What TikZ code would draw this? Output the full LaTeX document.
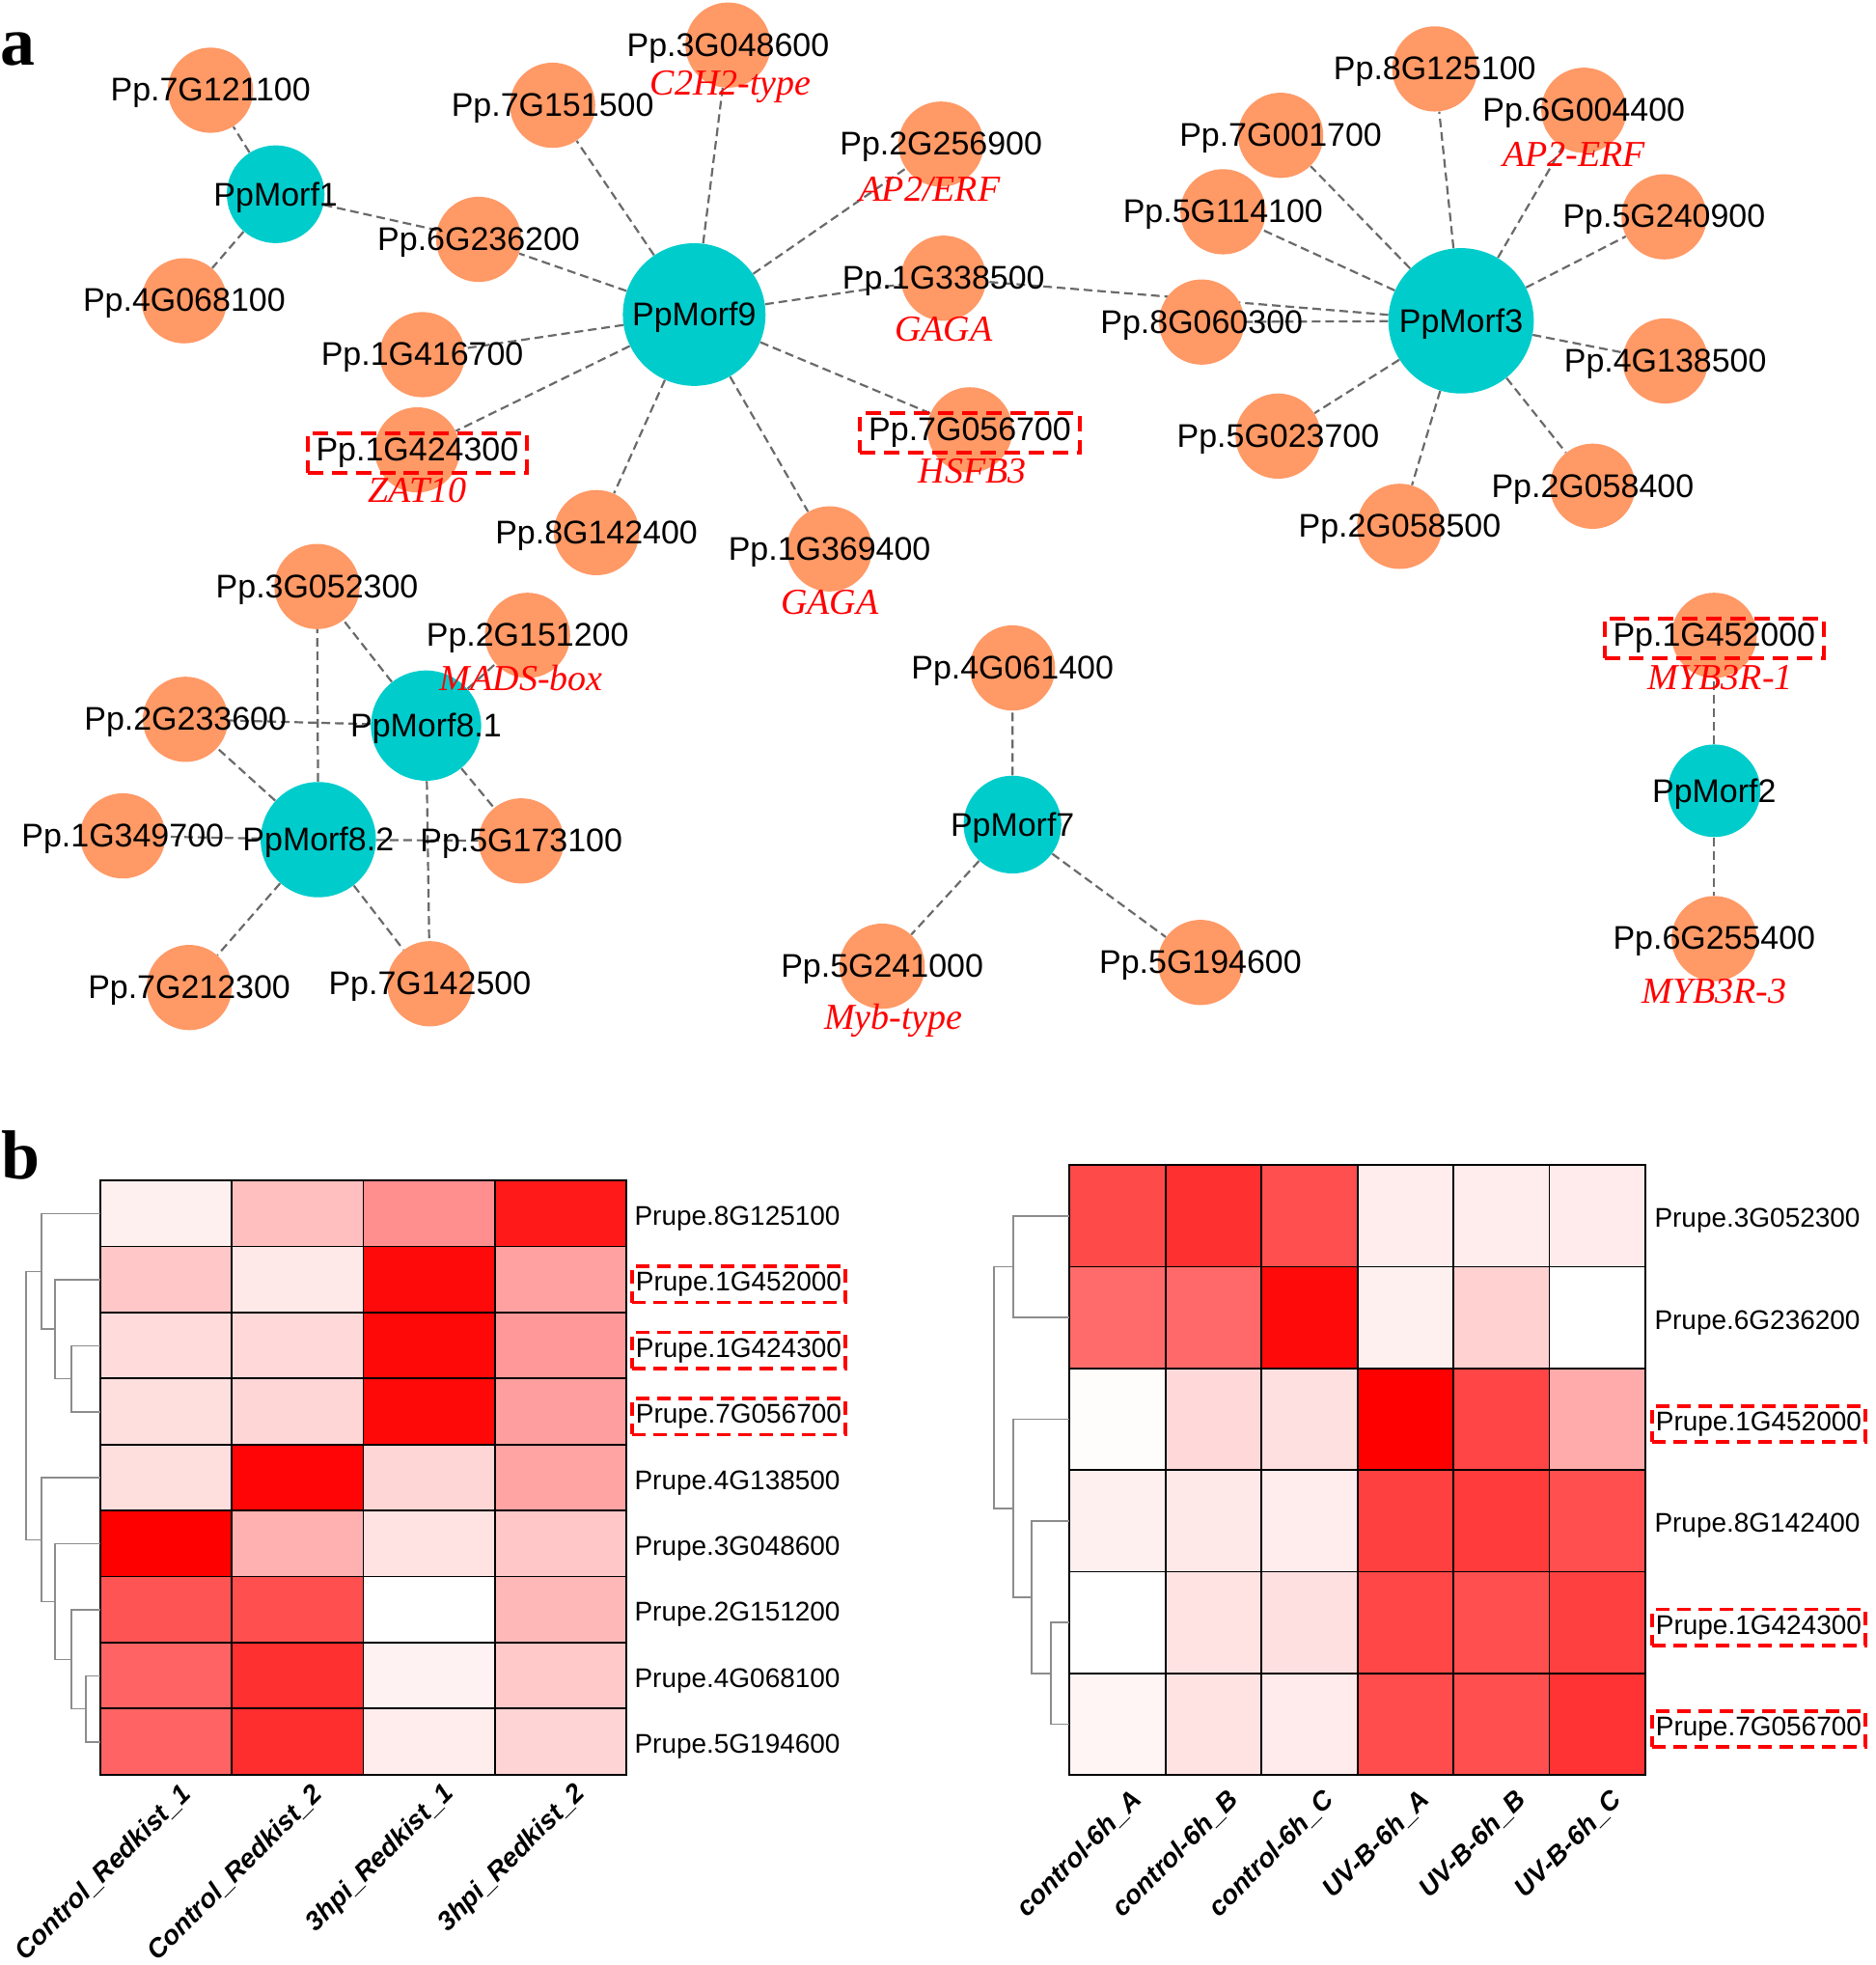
\documentclass[tikz,border=0pt]{standalone}
\usepackage{fontspec}
\setmainfont{Liberation Sans}
\newfontfamily\notefont{Liberation Serif}
\usetikzlibrary{backgrounds}

\definecolor{hubcol}{HTML}{00CCCC}
\definecolor{leafcol}{HTML}{FF9966}
\definecolor{edgecol}{HTML}{6A6A6A}
\definecolor{treecol}{HTML}{8C8C8C}

\tikzset{
  hub/.style={circle, fill=hubcol, inner sep=0pt, minimum size=#1},
  leaf/.style={circle, fill=leafcol, inner sep=0pt, minimum size=44.2pt},
  every label/.style={font=\fontsize{17}{20}\selectfont, inner sep=1pt, yshift=-1.5pt},
  hl/.style={draw=red, line width=2pt, dash pattern=on 8pt off 4.5pt, inner xsep=4.5pt, inner ysep=2.5pt},
  edge/.style={draw=edgecol, line width=1.1pt, dash pattern=on 4.5pt off 2.5pt},
  note/.style={text=red, font=\notefont\itshape\fontsize{19}{22}\selectfont, inner sep=0pt},
  cell/.style={draw=black, line width=0.9pt},
  tree/.style={draw=treecol, line width=0.8pt},
  rowlab/.style={anchor=west, inner xsep=2pt, inner ysep=3pt, yshift=-2.5pt, font=\fontsize{14}{16}\selectfont},
  rowhl/.style={rowlab, draw=red, line width=1.8pt, dash pattern=on 7pt off 4pt},
  collab/.style={anchor=east, rotate=45, inner sep=0pt, font=\bfseries\itshape\fontsize{13.8}{16}\selectfont},
  panel/.style={anchor=base west, inner sep=0pt, font=\notefont\bfseries\fontsize{36}{40}\selectfont}
}

\begin{document}
\begin{tikzpicture}[x=0.65pt, y=-0.65pt]
\useasboundingbox (0,0) rectangle (1497,1568);

\node[panel] (pa) at (0,52) {a};
\node[panel] (pb) at (1,941) {b};

% hubs
\node[hub=50.7pt, label=center:PpMorf1] (m1) at (220,155) {};
\node[hub=74pt, label=center:PpMorf9] (m9) at (554,251) {};
\node[hub=75.4pt, label=center:PpMorf3] (m3) at (1166,256) {};
\node[hub=57.2pt, label=center:PpMorf8.1] (m81) at (340,579) {};
\node[hub=59.8pt, label=center:PpMorf8.2] (m82) at (254,670) {};
\node[hub=50.7pt, label=center:PpMorf7] (m7) at (808,658) {};
\node[hub=48pt, label=center:PpMorf2] (m2) at (1368,631) {};

% PpMorf1 / PpMorf9 targets
\node[leaf, label=center:Pp.7G121100] (g7G121100) at (168,72) {};
\node[leaf, label=center:Pp.4G068100] (g4G068100) at (147,240) {};
\node[leaf, label=center:Pp.6G236200] (g6G236200) at (382,191) {};
\node[leaf, label=center:Pp.7G151500] (g7G151500) at (441,84) {};
\node[leaf, label=center:Pp.3G048600] (g3G048600) at (581,36) {};
\node[leaf, label=center:Pp.2G256900] (g2G256900) at (751,115) {};
\node[leaf, label=center:Pp.1G338500] (g1G338500) at (753,222) {};
\node[leaf, label=center:Pp.1G416700] (g1G416700) at (337,283) {};
\node[leaf, label={[hl]center:Pp.1G424300}] (g1G424300) at (333,359) {};
\node[leaf, label={[hl]center:Pp.7G056700}] (g7G056700) at (774,343) {};
\node[leaf, label=center:Pp.8G142400] (g8G142400) at (476,425) {};
\node[leaf, label=center:Pp.1G369400] (g1G369400) at (662,438) {};

% PpMorf3 targets
\node[leaf, label=center:Pp.8G125100] (g8G125100) at (1145,55) {};
\node[leaf, label=center:Pp.6G004400] (g6G004400) at (1264,88) {};
\node[leaf, label=center:Pp.7G001700] (g7G001700) at (1022,108) {};
\node[leaf, label=center:Pp.5G114100] (g5G114100) at (976,169) {};
\node[leaf, label=center:Pp.5G240900] (g5G240900) at (1328,173) {};
\node[leaf, label=center:Pp.8G060300] (g8G060300) at (959,257) {};
\node[leaf, label=center:Pp.4G138500] (g4G138500) at (1329,288) {};
\node[leaf, label=center:Pp.5G023700] (g5G023700) at (1020,348) {};
\node[leaf, label=center:Pp.2G058500] (g2G058500) at (1117,420) {};
\node[leaf, label=center:Pp.2G058400] (g2G058400) at (1271,388) {};

% PpMorf8.1 / PpMorf8.2 targets
\node[leaf, label=center:Pp.3G052300] (g3G052300) at (253,468) {};
\node[leaf, label=center:Pp.2G151200] (g2G151200) at (421,507) {};
\node[leaf, label=center:Pp.2G233600] (g2G233600) at (148,574) {};
\node[leaf, label=center:Pp.1G349700] (g1G349700) at (98,667) {};
\node[leaf, label=center:Pp.5G173100] (g5G173100) at (416,671) {};
\node[leaf, label=center:Pp.7G212300] (g7G212300) at (151,788) {};
\node[leaf, label=center:Pp.7G142500] (g7G142500) at (343,785) {};

% PpMorf7 / PpMorf2 targets
\node[leaf, label=center:Pp.4G061400] (g4G061400) at (808,533) {};
\node[leaf, label=center:Pp.5G241000] (g5G241000) at (704,771) {};
\node[leaf, label=center:Pp.5G194600] (g5G194600) at (958,768) {};
\node[leaf, label={[hl]center:Pp.1G452000}] (g1G452000) at (1368,507) {};
\node[leaf, label=center:Pp.6G255400] (g6G255400) at (1368,749) {};

% family names
\node[note] (n1) at (583,69) {C2H2-type};
\node[note] (n2) at (742,151) {AP2/ERF};
\node[note] (n3) at (753,263) {GAGA};
\node[note] (n4) at (333,391) {ZAT10};
\node[note] (n5) at (776,376) {HSFB3};
\node[note] (n6) at (662,481) {GAGA};
\node[note] (n7) at (1256,123) {AP2-ERF};
\node[note] (n8) at (416,541) {MADS-box};
\node[note] (n9) at (713,814) {Myb-type};
\node[note] (n10) at (1373,541) {MYB3R-1};
\node[note] (n11) at (1368,791) {MYB3R-3};

\begin{scope}[on background layer]
\draw[edge] (m1) -- (g7G121100) (m1) -- (g4G068100) (m1) -- (g6G236200);
\draw[edge] (m9) -- (g6G236200) (m9) -- (g7G151500) (m9) -- (g3G048600)
  (m9) -- (g2G256900) (m9) -- (g1G338500) (m9) -- (g1G416700)
  (m9) -- (g1G424300) (m9) -- (g7G056700) (m9) -- (g8G142400) (m9) -- (g1G369400);
\draw[edge] (m3) -- (g8G125100) (m3) -- (g6G004400) (m3) -- (g7G001700)
  (m3) -- (g5G114100) (m3) -- (g5G240900) (m3) -- (g8G060300) (m3) -- (g1G338500)
  (m3) -- (g4G138500) (m3) -- (g5G023700) (m3) -- (g2G058500) (m3) -- (g2G058400);
\draw[edge] (m81) -- (g3G052300) (m81) -- (g2G151200) (m81) -- (g2G233600)
  (m81) -- (g5G173100) (m81) -- (g7G142500);
\draw[edge] (m82) -- (g3G052300) (m82) -- (g2G233600) (m82) -- (g1G349700)
  (m82) -- (g5G173100) (m82) -- (g7G212300) (m82) -- (g7G142500);
\draw[edge] (m7) -- (g4G061400) (m7) -- (g5G241000) (m7) -- (g5G194600);
\draw[edge] (m2) -- (g1G452000) (m2) -- (g6G255400);
\end{scope}

% left heatmap
\foreach \vals [count=\r] in {{6,25,44,90},{22,9,96,37},{14,15,97,40},{13,16,97,38},{13,98,16,36},{100,31,11,22},{67,69,0,28},{61,81,5,21},{61,82,7,17}}
  \foreach \v [count=\c] in \vals
    \filldraw[cell, fill=red!\v] ({80+(\c-1)*105},{942+(\r-1)*52.67}) rectangle ++(105,52.67);

\node[rowlab] (l1) at (503,968.4) {Prupe.8G125100};
\node[rowhl] (l2) at (503,1021.1) {Prupe.1G452000};
\node[rowhl] (l3) at (503,1073.8) {Prupe.1G424300};
\node[rowhl] (l4) at (503,1126.5) {Prupe.7G056700};
\node[rowlab] (l5) at (503,1179.2) {Prupe.4G138500};
\node[rowlab] (l6) at (503,1231.9) {Prupe.3G048600};
\node[rowlab] (l7) at (503,1284.6) {Prupe.2G151200};
\node[rowlab] (l8) at (503,1337.3) {Prupe.4G068100};
\node[rowlab] (l9) at (503,1390) {Prupe.5G194600};

\node[collab] (lc1) at (149,1428) {Control\_Redkist\_1};
\node[collab] (lc2) at (254,1428) {Control\_Redkist\_2};
\node[collab] (lc3) at (359,1428) {3hpi\_Redkist\_1};
\node[collab] (lc4) at (464,1428) {3hpi\_Redkist\_2};

% left tree
\draw[tree] (80,1073.8) -- (57,1073.8) -- (57,1126.5) -- (80,1126.5);
\draw[tree] (80,1021.1) -- (44,1021.1) -- (44,1100.2) -- (57,1100.2);
\draw[tree] (80,968.4) -- (33,968.4) -- (33,1060.6) -- (44,1060.6);
\draw[tree] (80,1337.3) -- (68.5,1337.3) -- (68.5,1390) -- (80,1390);
\draw[tree] (80,1284.6) -- (57,1284.6) -- (57,1363.6) -- (68.5,1363.6);
\draw[tree] (80,1231.9) -- (44,1231.9) -- (44,1324.1) -- (57,1324.1);
\draw[tree] (80,1179.2) -- (33,1179.2) -- (33,1278) -- (44,1278);
\draw[tree] (33,1014.5) -- (21,1014.5) -- (21,1228.6) -- (33,1228.6);

% right heatmap
\foreach \vals [count=\r] in {{71,81,69,7,7,8},{58,59,96,6,18,0},{1,15,12,100,73,33},{6,9,7,75,77,69},{0,11,12,72,69,75},{4,11,8,70,69,80}}
  \foreach \v [count=\c] in \vals
    \filldraw[cell, fill=red!\v] ({853.5+(\c-1)*76.6},{929.7+(\r-1)*81.1}) rectangle ++(76.6,81.1);

\node[rowlab] (r1) at (1317,970.3) {Prupe.3G052300};
\node[rowlab] (r2) at (1317,1051.4) {Prupe.6G236200};
\node[rowhl] (r3) at (1317,1132.5) {Prupe.1G452000};
\node[rowlab] (r4) at (1317,1213.6) {Prupe.8G142400};
\node[rowhl] (r5) at (1317,1294.7) {Prupe.1G424300};
\node[rowhl] (r6) at (1317,1375.8) {Prupe.7G056700};

\node[collab] (rc1) at (908,1433) {control-6h\_A};
\node[collab] (rc2) at (984.6,1433) {control-6h\_B};
\node[collab] (rc3) at (1061.2,1433) {control-6h\_C};
\node[collab] (rc4) at (1137.8,1433) {UV-B-6h\_A};
\node[collab] (rc5) at (1214.4,1433) {UV-B-6h\_B};
\node[collab] (rc6) at (1291,1433) {UV-B-6h\_C};

% right tree
\draw[tree] (853.5,970.3) -- (808.6,970.3) -- (808.6,1051.4) -- (853.5,1051.4);
\draw[tree] (853.5,1294.7) -- (838.6,1294.7) -- (838.6,1375.8) -- (853.5,1375.8);
\draw[tree] (853.5,1213.6) -- (823.3,1213.6) -- (823.3,1335.3) -- (838.6,1335.3);
\draw[tree] (853.5,1132.5) -- (808.6,1132.5) -- (808.6,1274.5) -- (823.3,1274.5);
\draw[tree] (808.6,1010.9) -- (793,1010.9) -- (793,1203.5) -- (808.6,1203.5);

\end{tikzpicture}
\end{document}
